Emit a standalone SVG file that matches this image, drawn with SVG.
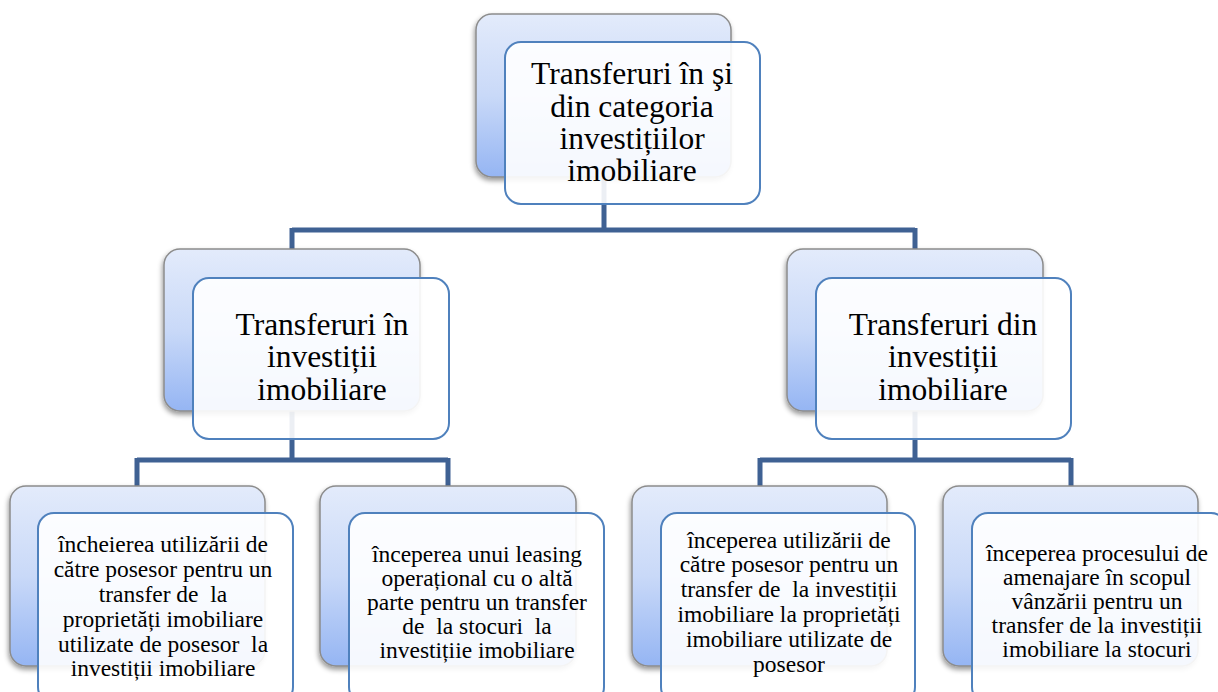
<svg xmlns="http://www.w3.org/2000/svg" width="1218" height="692" viewBox="0 0 1218 692">
<defs>
<linearGradient id="bg" x1="0" y1="0" x2="0" y2="1">
<stop offset="0" stop-color="#e3ebfb"/>
<stop offset="0.5" stop-color="#c9d9f8"/>
<stop offset="1" stop-color="#95b5f3"/>
</linearGradient>
<filter id="sh" x="-10%" y="-10%" width="120%" height="130%">
<feDropShadow dx="-1" dy="3" stdDeviation="2.5" flood-color="#000" flood-opacity="0.4"/>
</filter>
</defs>
<style>
.back{fill:url(#bg);stroke:#8c8c8c;stroke-width:1.5;filter:url(#sh)}
.front{fill:#ffffff;fill-opacity:0.9;stroke:#4f81bd;stroke-width:2}
.conn{fill:none;stroke:#3f6193;stroke-width:5}
.big{font-family:"Liberation Serif","Times New Roman",serif;font-size:31.5px;fill:#000;text-anchor:middle}
.sm{font-family:"Liberation Serif","Times New Roman",serif;font-size:23.5px;fill:#000;text-anchor:middle;white-space:pre}
</style>
<g id="connectors">
<path class="conn" d="M604,177 V230 M292,230 H915 M292,228 V249 M915,228 V249"/>
<path class="conn" d="M292,411 V460 M137,460 H448 M137,458 V486 M448,458 V486"/>
<path class="conn" d="M915,411 V460 M760,460 H1071 M760,458 V486 M1071,458 V486"/>
</g>
<g id="n-top">
<rect class="back" x="476" y="14" width="255" height="163" rx="16"/>
<rect class="front" x="505" y="42" width="255" height="162" rx="16"/>
<text class="big"><tspan x="632" y="84">Transferuri în şi</tspan><tspan x="632" y="117">din categoria</tspan><tspan x="632" y="149">investițiilor</tspan><tspan x="632" y="181">imobiliare</tspan></text>
</g>
<g id="n-in">
<rect class="back" x="164" y="249" width="256" height="162" rx="16"/>
<rect class="front" x="193" y="278" width="256" height="161" rx="16"/>
<text class="big"><tspan x="322" y="335">Transferuri în</tspan><tspan x="322" y="367">investiții</tspan><tspan x="322" y="400">imobiliare</tspan></text>
</g>
<g id="n-din">
<rect class="back" x="787" y="249" width="256" height="162" rx="16"/>
<rect class="front" x="816" y="278" width="255" height="161" rx="16"/>
<text class="big"><tspan x="943" y="335">Transferuri din</tspan><tspan x="943" y="367">investiții</tspan><tspan x="943" y="400">imobiliare</tspan></text>
</g>
<g id="n-b1">
<rect class="back" x="10" y="486" width="255" height="180" rx="16"/>
<rect class="front" x="38" y="513" width="255" height="190" rx="16"/>
<text class="sm"><tspan x="163" y="552">încheierea utilizării de</tspan><tspan x="163" y="577">către posesor pentru un</tspan><tspan x="163" y="602">transfer de  la</tspan><tspan x="163" y="627">proprietăți imobiliare</tspan><tspan x="163" y="652">utilizate de posesor  la</tspan><tspan x="163" y="676">investiții imobiliare</tspan></text>
</g>
<g id="n-b2">
<rect class="back" x="320" y="486" width="256" height="180" rx="16"/>
<rect class="front" x="349" y="513" width="255" height="190" rx="16"/>
<text class="sm"><tspan x="477" y="562">începerea unui leasing</tspan><tspan x="477" y="586">operațional cu o altă</tspan><tspan x="477" y="610">parte pentru un transfer</tspan><tspan x="477" y="634">de  la stocuri  la</tspan><tspan x="477" y="658">investițiie imobiliare</tspan></text>
</g>
<g id="n-b3">
<rect class="back" x="632" y="486" width="255" height="180" rx="16"/>
<rect class="front" x="661" y="513" width="254" height="190" rx="16"/>
<text class="sm"><tspan x="789" y="548">începerea utilizării de</tspan><tspan x="789" y="572">către posesor pentru un</tspan><tspan x="789" y="597">transfer de  la investiții</tspan><tspan x="789" y="622">imobiliare la proprietăți</tspan><tspan x="789" y="647">imobiliare utilizate de</tspan><tspan x="789" y="672">posesor</tspan></text>
</g>
<g id="n-b4">
<rect class="back" x="943" y="486" width="255" height="180" rx="16"/>
<rect class="front" x="972" y="513" width="255" height="190" rx="16"/>
<text class="sm"><tspan x="1097" y="561">începerea procesului de</tspan><tspan x="1097" y="585">amenajare în scopul</tspan><tspan x="1097" y="609">vânzării pentru un</tspan><tspan x="1097" y="633">transfer de la investiții</tspan><tspan x="1097" y="657">imobiliare la stocuri</tspan></text>
</g>
</svg>
